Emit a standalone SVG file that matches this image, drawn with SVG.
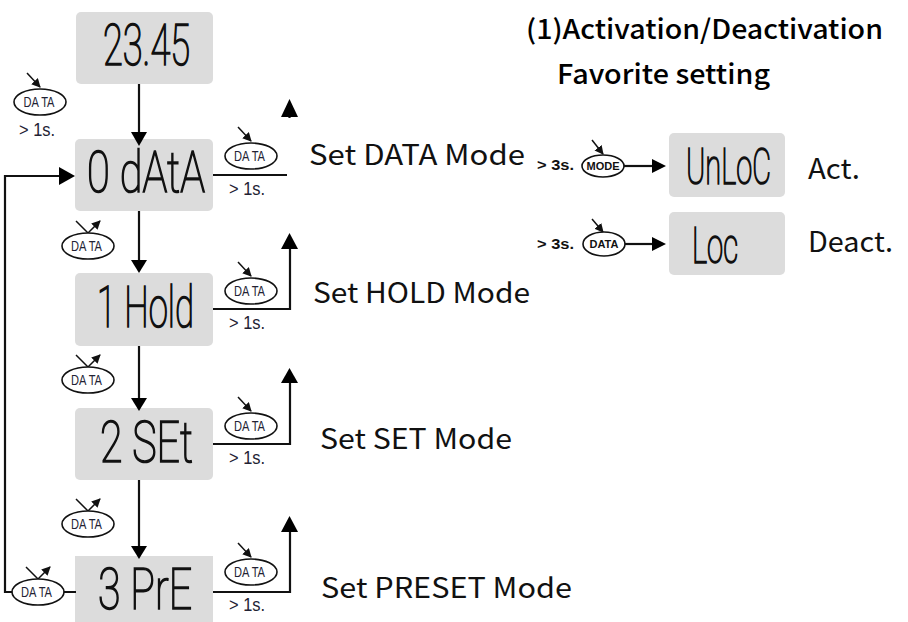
<svg xmlns="http://www.w3.org/2000/svg" width="908" height="622" viewBox="0 0 908 622">
<style>
.box{fill:#dcdcdc}
.lcd{font-family:Roboto,"Liberation Sans",sans-serif;font-weight:100;font-size:58px;fill:#111;stroke:#111;stroke-width:1.700}
.lcds{font-size:50px}
.ln{fill:none;stroke:#111;stroke-width:2.2}
.thin{fill:none;stroke:#111;stroke-width:1.5}
.head{fill:#000}
.el{fill:#fff;stroke:#111;stroke-width:1.6}
.dt{font-family:"Liberation Sans",Arial,sans-serif;font-size:14px;fill:#223;text-anchor:middle}
.sec{font-family:"Liberation Sans",Arial,sans-serif;font-size:18px;fill:#223}
.bt{font-family:"Liberation Sans",Arial,sans-serif;font-size:14px;font-weight:bold;fill:#111}
.bk{font-family:"Liberation Sans",Arial,sans-serif;font-size:11px;font-weight:bold;fill:#111;text-anchor:middle}
.lb{font-family:"Noto Sans CJK JP","Noto Sans",sans-serif;font-size:28px;fill:#111}
.ti{font-family:"Noto Sans CJK JP","Noto Sans",sans-serif;font-size:27px;font-weight:500;fill:#000}
</style>
<defs>
<marker id="sm" markerUnits="userSpaceOnUse" markerWidth="10" markerHeight="10" refX="8" refY="4.500" orient="auto"><path d="M0 0L9 4.500L0 9z" fill="#111"/></marker>
<g id="press"><path class="thin" d="M-14 -29L-1 -15" marker-end="url(#sm)"/></g>
<g id="release"><path class="thin" d="M-12 -25L0 -13L12 -25" marker-end="url(#sm)"/></g>
</defs>

<g id="n-2345"><rect class="box" x="76" y="12" width="137" height="72" rx="5"/><text class="lcd" transform="translate(103 65)" textLength="87" lengthAdjust="spacingAndGlyphs">23.45</text></g>
<g id="n-data"><rect class="box" x="75" y="139" width="138" height="72" rx="5"/><text class="lcd" transform="translate(87 192)" textLength="118" lengthAdjust="spacingAndGlyphs">0 dAtA</text></g>
<g id="n-hold"><rect class="box" x="75" y="273" width="138" height="73" rx="5"/><text class="lcd" transform="translate(97 327)" textLength="97" lengthAdjust="spacingAndGlyphs">1 Hold</text></g>
<g id="n-set"><rect class="box" x="75" y="408" width="138" height="72" rx="5"/><text class="lcd" transform="translate(100 462)" textLength="93" lengthAdjust="spacingAndGlyphs">2 SEt</text></g>
<g id="n-pre"><rect class="box" x="75" y="556" width="138" height="66"/><text class="lcd" transform="translate(98 609)" textLength="94" lengthAdjust="spacingAndGlyphs">3 PrE</text></g>
<g id="n-unloc"><rect class="box" x="669" y="133" width="116" height="64" rx="5"/><text class="lcd lcds" transform="translate(686 184)" textLength="85" lengthAdjust="spacingAndGlyphs">UnLoC</text></g>
<g id="n-loc"><rect class="box" x="669" y="212" width="116" height="63" rx="5"/><text class="lcd lcds" transform="translate(692 263)" textLength="46" lengthAdjust="spacingAndGlyphs">Loc</text></g>

<g id="connectors">
<path class="ln" d="M139 84V134"/><path class="head" d="M131 132H147L139 146z"/>
<path class="ln" d="M139 211V262"/><path class="head" d="M131 260H147L139 273z"/>
<path class="ln" d="M139 346V400"/><path class="head" d="M131 398H147L139 411z"/>
<path class="ln" d="M139 480V548"/><path class="head" d="M131 546H147L139 559z"/>
<path class="ln" d="M76 592H5V176H60"/><path class="head" d="M59 167V185L75 176z"/>
<path class="ln" d="M213 175H287"/><path class="head" d="M281 117H298L289.500 99z"/><path class="ln" d="M289.500 117V118"/>
<path class="ln" d="M213 309H290V247"/><path class="head" d="M281 249H298L289.500 233z"/>
<path class="ln" d="M213 444H290V381"/><path class="head" d="M281 383H298L289.500 368z"/>
<path class="ln" d="M213 592H290V530"/><path class="head" d="M281 532H298L289.500 516z"/>
<path class="ln" d="M624 166H654"/><path class="head" d="M652 159V173L666 166z"/>
<path class="ln" d="M625 244H654"/><path class="head" d="M652 237V251L666 244z"/>
</g>

<g id="b-start"><use href="#press" x="41" y="102"/><ellipse class="el" cx="40" cy="102" rx="26" ry="13"/><text class="dt" x="39" y="107" textLength="31" lengthAdjust="spacingAndGlyphs">DA TA</text><text class="sec" x="19" y="136" textLength="36" lengthAdjust="spacingAndGlyphs">&gt; 1s.</text></g>
<g id="b-r1"><use href="#press" x="252" y="156"/><ellipse class="el" cx="251" cy="156" rx="26" ry="13"/><text class="dt" x="249.500" y="161" textLength="31" lengthAdjust="spacingAndGlyphs">DA TA</text><text class="sec" x="229" y="195" textLength="36" lengthAdjust="spacingAndGlyphs">&gt; 1s.</text></g>
<g id="b-r2"><use href="#press" x="252" y="291"/><ellipse class="el" cx="251" cy="291" rx="26" ry="13"/><text class="dt" x="249.500" y="296" textLength="31" lengthAdjust="spacingAndGlyphs">DA TA</text><text class="sec" x="229" y="329" textLength="36" lengthAdjust="spacingAndGlyphs">&gt; 1s.</text></g>
<g id="b-r3"><use href="#press" x="252" y="426"/><ellipse class="el" cx="251" cy="426" rx="26" ry="13"/><text class="dt" x="249.500" y="431" textLength="31" lengthAdjust="spacingAndGlyphs">DA TA</text><text class="sec" x="229" y="464" textLength="36" lengthAdjust="spacingAndGlyphs">&gt; 1s.</text></g>
<g id="b-r4"><use href="#press" x="252" y="572"/><ellipse class="el" cx="251" cy="572" rx="26" ry="13"/><text class="dt" x="249.500" y="577" textLength="31" lengthAdjust="spacingAndGlyphs">DA TA</text><text class="sec" x="229" y="611" textLength="36" lengthAdjust="spacingAndGlyphs">&gt; 1s.</text></g>
<g id="b-d1"><use href="#release" x="88" y="246"/><ellipse class="el" cx="88" cy="246" rx="26" ry="13"/><text class="dt" x="86.500" y="251" textLength="31" lengthAdjust="spacingAndGlyphs">DA TA</text></g>
<g id="b-d2"><use href="#release" x="88" y="380"/><ellipse class="el" cx="88" cy="380" rx="26" ry="13"/><text class="dt" x="86.500" y="385" textLength="31" lengthAdjust="spacingAndGlyphs">DA TA</text></g>
<g id="b-d3"><use href="#release" x="88" y="524"/><ellipse class="el" cx="88" cy="524" rx="26" ry="13"/><text class="dt" x="86.500" y="529" textLength="31" lengthAdjust="spacingAndGlyphs">DA TA</text></g>
<g id="b-d4"><use href="#release" x="38" y="592"/><ellipse class="el" cx="38" cy="592" rx="26" ry="13"/><text class="dt" x="36.500" y="597" textLength="31" lengthAdjust="spacingAndGlyphs">DA TA</text></g>

<g id="b-mode"><path class="thin" d="M592 140L603 154" marker-end="url(#sm)"/><ellipse class="el" cx="603" cy="166" rx="21" ry="11"/><text class="bk" x="603" y="170">MODE</text><text class="bt" x="537" y="170" textLength="37" lengthAdjust="spacingAndGlyphs">&gt; 3s.</text></g>
<g id="b-data2"><path class="thin" d="M592 219L603 232" marker-end="url(#sm)"/><ellipse class="el" cx="604" cy="244" rx="21" ry="12"/><text class="bk" x="604" y="248">DATA</text><text class="bt" x="537" y="249" textLength="37" lengthAdjust="spacingAndGlyphs">&gt; 3s.</text></g>

<g id="labels">
<text class="ti" x="526" y="39" textLength="357" lengthAdjust="spacingAndGlyphs">(1)Activation/Deactivation</text>
<text class="ti" x="557" y="84" textLength="213" lengthAdjust="spacingAndGlyphs">Favorite setting</text>
<text class="lb" x="309" y="165" textLength="216" lengthAdjust="spacingAndGlyphs">Set DATA Mode</text>
<text class="lb" x="313" y="303" textLength="217" lengthAdjust="spacingAndGlyphs">Set HOLD Mode</text>
<text class="lb" x="320" y="449" textLength="192" lengthAdjust="spacingAndGlyphs">Set SET Mode</text>
<text class="lb" x="321" y="598" textLength="251" lengthAdjust="spacingAndGlyphs">Set PRESET Mode</text>
<text class="lb" x="808" y="179" textLength="52" lengthAdjust="spacingAndGlyphs">Act.</text>
<text class="lb" x="808" y="252" textLength="85" lengthAdjust="spacingAndGlyphs">Deact.</text>
</g>
</svg>
